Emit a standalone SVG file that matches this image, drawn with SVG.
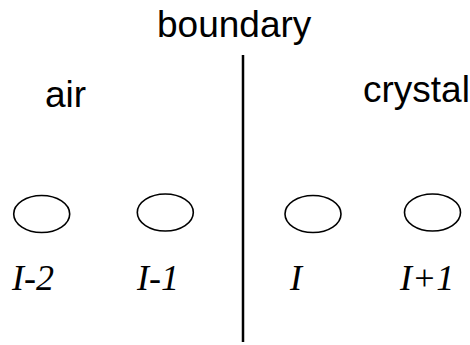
<svg xmlns="http://www.w3.org/2000/svg" width="470" height="345" viewBox="0 0 470 345">
<style>
.lbl{font-family:"Liberation Sans",Arial,sans-serif;font-size:37px;fill:#000}
.idx{font-family:"Liberation Serif","Times New Roman",serif;font-style:italic;font-size:36px;fill:#000}
.atom{fill:none;stroke:#000;stroke-width:1.6}
</style>
<rect width="470" height="345" fill="#fff"/>
<g id="boundary-label"><text class="lbl" x="157" y="37">boundary</text></g>
<g id="air-label"><text class="lbl" x="45" y="107">air</text></g>
<g id="crystal-label"><text class="lbl" x="363" y="102">crystal</text></g>
<g id="connectors">
<line x1="243" y1="55" x2="243" y2="342" stroke="#000" stroke-width="2.5"/>
</g>
<g id="atom-l-2"><ellipse class="atom" cx="41.7" cy="214" rx="28" ry="18.5"/><text class="idx" x="12" y="290">I-2</text></g>
<g id="atom-l-1"><ellipse class="atom" cx="165.3" cy="212.5" rx="28" ry="18.5"/><text class="idx" x="137" y="290">I-1</text></g>
<g id="atom-l"><ellipse class="atom" cx="313" cy="214" rx="28" ry="18.5"/><text class="idx" x="290" y="290">I</text></g>
<g id="atom-l+1"><ellipse class="atom" cx="432.5" cy="212.5" rx="28" ry="18.5"/><text class="idx" x="400" y="290">I+1</text></g>
</svg>
